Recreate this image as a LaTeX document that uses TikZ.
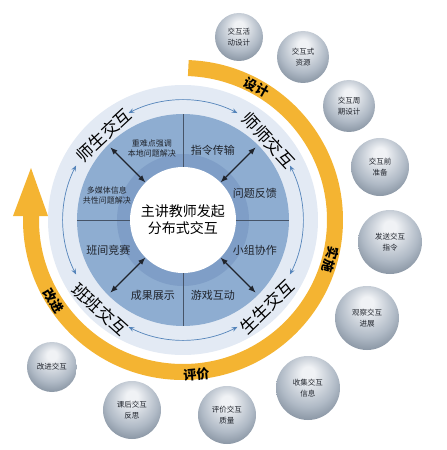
\documentclass[tikz,border=0pt]{standalone}
\usepackage{fontspec}
\setmainfont{Noto Sans CJK SC}
\usepackage{tikz}
\usetikzlibrary{
  arrows.meta
}
\definecolor{cycOrange}{RGB}{244,180,50}
\definecolor{cycPale}{RGB}{227,234,244}
\definecolor{cycBlue}{RGB}{142,173,209}
\definecolor{cycDeep}{RGB}{127,158,199}
\definecolor{cycLine}{RGB}{70,84,104}
\definecolor{cycArc}{RGB}{84,132,186}
\definecolor{cycText}{RGB}{32,36,44}
\definecolor{orbHigh}{RGB}{240,242,245}
\definecolor{orbMid}{RGB}{176,186,198}
\definecolor{orbLow}{RGB}{104,118,134}
\pgfdeclareradialshading{orbShade}{\pgfpoint{0bp}{13bp}}{
  color(0bp)=(orbHigh); color(5bp)=(orbHigh);
  color(22bp)=(orbMid); color(38bp)=(orbLow); color(50bp)=(orbLow)}
\tikzset{
  cycHub/.style={
    circle,
    fill=white,
    minimum size=106pt,
    inner sep=0pt,
    outer sep=0pt,
    align=center,
    text=black,
    font=\fontsize{14}{17}\selectfont
  },
  cycPair/.style={
    inner sep=0pt,
    text=black,
    font=\fontsize{17}{20}\selectfont
  },
  cycTask/.style={
    inner sep=0pt,
    align=center,
    text=cycText,
    font=\fontsize{11}{13}\selectfont
  },
  cycNote/.style={
    inner sep=0pt,
    align=center,
    text=cycText,
    font=\fontsize{8}{10}\selectfont
  },
  cycStage/.style={
    inner sep=0pt,
    text=black,
    font=\fontsize{13}{15}\selectfont\bfseries
  },
  cycOrb/.style={
    circle,
    shading=orbShade,
    inner sep=0pt,
    align=center,
    text=cycText,
    font=\fontsize{7.5}{10.5}\selectfont
  },
  cycBand/.style={
    line width=16pt,
    draw=cycOrange
  },
  cycDivider/.style={
    draw=cycLine,
    line width=0.7pt
  },
  cycPairArrow/.style={
    {Latex[length=2.6mm,width=2mm]}-{Latex[length=2.6mm,width=2mm]},
    line width=1.2pt,
    draw=cycText
  },
  cycRingArrow/.style={
    {Stealth[length=2mm,width=1.6mm]}-{Stealth[length=2mm,width=1.6mm]},
    line width=0.7pt,
    draw=cycArc
  }
}

\begin{document}
\begin{tikzpicture}[x=1pt, y=1pt]
  \useasboundingbox (-183,-230) rectangle (264,220);

  \fill[cycPale] (0,0) circle[radius=135];
  \fill[cycBlue] (0,0) circle[radius=106];
  \fill[cycDeep] (0,0) circle[radius=66];

  \node[cycHub] (hub) at (0,0) {主讲教师发起\\分布式交互};

  \foreach \a in {0,90,180,270} {
    \coordinate (rim\a) at (\a:106);
    \draw[cycDivider] (hub.\a) -- (rim\a);
    \draw[cycRingArrow] ({\a-27}:120) arc[start angle={\a-27}, end angle={\a+27}, radius=120];
  }
  \foreach \a in {45,135,225,315} {
    \coordinate (tip\a) at (\a:103);
    \draw[cycPairArrow] (hub.\a) -- (tip\a);
  }

  \node[cycPair, rotate=43] (teachStu) at (133:116) {师生交互};
  \node[cycPair, rotate=-47] (teachTeach) at (43:117) {师师交互};
  \node[cycPair, rotate=44] (stuStu) at (-46:121) {生生交互};
  \node[cycPair, rotate=-42] (classClass) at (227:122) {班班交互};

  \node[cycNote] (keyPoint) at (-31,72) {重难点强调\\本地问题解决};
  \node[cycNote] (media) at (-76,25) {多媒体信息\\共性问题解决};
  \node[cycTask] (command) at (30,70) {指令传输};
  \node[cycTask] (feedback) at (72,27) {问题反馈};
  \node[cycTask] (group) at (72,-30) {小组协作};
  \node[cycTask] (game) at (30,-75) {游戏互动};
  \node[cycTask] (result) at (-30,-75) {成果展示};
  \node[cycTask] (contest) at (-74.5,-30) {班间竞赛};

  \draw[cycBand] (88:152) arc[start angle=88, end angle=-182, radius=152];
  \fill[cycOrange] (-170,4) -- (-152,52) -- (-135,4) -- cycle;

  \node[cycStage, rotate=-29] (design) at (61:152) {设计};
  \node[cycStage, rotate=-105] (run) at (-15:153) {实施};
  \node[cycStage, rotate=5] (judge) at (-85:155) {评价};
  \node[cycStage, rotate=-58] (improve) at (212:153) {改进};

  \node[cycOrb, minimum size=48pt] (orb1) at (56,183) {交互活\\动设计};
  \node[cycOrb, minimum size=52pt] (orb2) at (120,163) {交互式\\资源};
  \node[cycOrb, minimum size=52pt] (orb3) at (166,114) {交互周\\期设计};
  \node[cycOrb, minimum size=58pt] (orb4) at (197,53) {交互前\\准备};
  \node[cycOrb, minimum size=64pt] (orb5) at (207,-22) {发送交互\\指令};
  \node[cycOrb, minimum size=64pt] (orb6) at (184,-98) {观察交互\\进展};
  \node[cycOrb, minimum size=64pt] (orb7) at (125,-168) {收集交互\\信息};
  \node[cycOrb, minimum size=58pt] (orb8) at (44,-195) {评价交互\\质量};
  \node[cycOrb, minimum size=58pt] (orb9) at (-51,-190) {课后交互\\反思};
  \node[cycOrb, minimum size=50pt] (orb10) at (-131,-147) {改进交互};
\end{tikzpicture}
\end{document}
